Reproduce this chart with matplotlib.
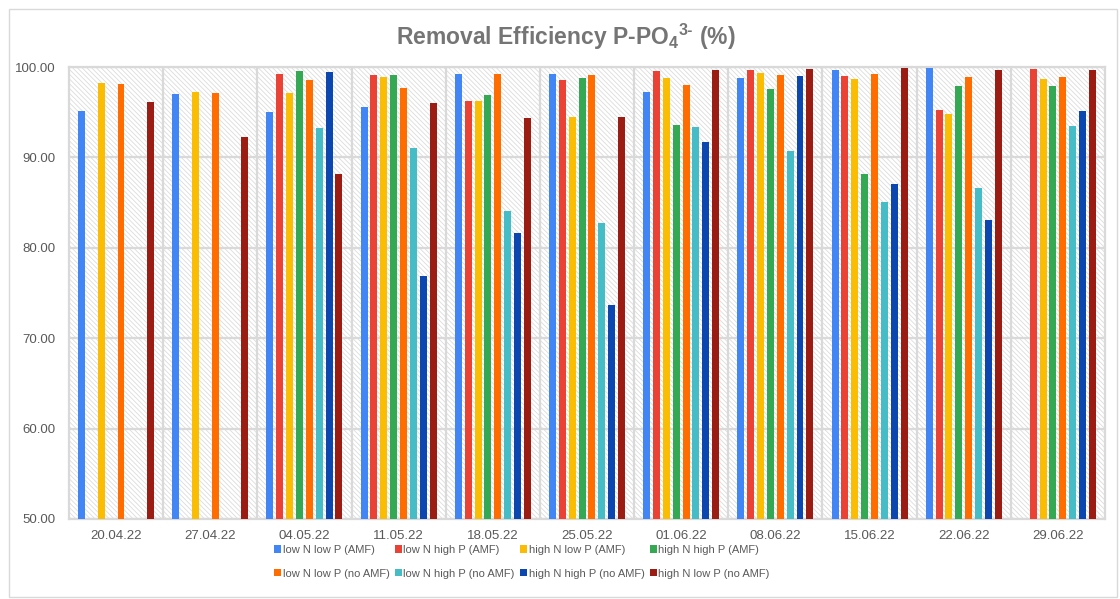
import numpy as np
import matplotlib
matplotlib.use("Agg")
import matplotlib.pyplot as plt
from matplotlib.patches import Patch, Rectangle
from matplotlib.ticker import FixedLocator, FormatStrFormatter

# ---------------------------------------------------------------------------
# Data
# ---------------------------------------------------------------------------
dates = ["20.04.22", "27.04.22", "04.05.22", "11.05.22", "18.05.22", "25.05.22",
         "01.06.22", "08.06.22", "15.06.22", "22.06.22", "29.06.22"]
nan = np.nan

low_n_low_p_amf = [95.1, 97.0, 95.0, 95.6, 99.2, 99.2, 97.2, 98.8, 99.7, 99.9, nan]
low_n_high_p_amf = [nan, nan, 99.2, 99.1, 96.2, 98.6, 99.6, 99.7, 99.0, 95.2, 99.8]
high_n_low_p_amf = [98.2, 97.2, 97.1, 98.9, 96.2, 94.5, 98.8, 99.3, 98.7, 94.8, 98.7]
high_n_high_p_amf = [nan, nan, 99.6, 99.1, 96.9, 98.8, 93.6, 97.6, 88.2, 97.9, 97.9]
low_n_low_p_noamf = [98.1, 97.1, 98.6, 97.7, 99.2, 99.1, 98.0, 99.1, 99.2, 98.9, 98.9]
low_n_high_p_noamf = [nan, nan, 93.3, 91.0, 84.1, 82.7, 93.4, 90.7, 85.1, 86.6, 93.5]
high_n_high_p_noamf = [nan, nan, 99.5, 76.9, 81.6, 73.7, 91.7, 99.0, 87.1, 83.1, 95.1]
high_n_low_p_noamf = [96.1, 92.3, 88.2, 96.0, 94.4, 94.5, 99.7, 99.8, 99.9, 99.7, 99.7]

series_labels = ["low N low P (AMF)", "low N high P (AMF)", "high N low P (AMF)",
                 "high N high P (AMF)", "low N low P (no AMF)", "low N high P (no AMF)",
                 "high N high P (no AMF)", "high N low P (no AMF)"]
series_values = [low_n_low_p_amf, low_n_high_p_amf, high_n_low_p_amf, high_n_high_p_amf,
                 low_n_low_p_noamf, low_n_high_p_noamf, high_n_high_p_noamf,
                 high_n_low_p_noamf]
colors = ["#4285F4", "#EA4335", "#FBBC04", "#34A853",
          "#FF6D01", "#46BDC6", "#0B47AE", "#9B1C12"]

# ---------------------------------------------------------------------------
# Figure
# ---------------------------------------------------------------------------
plt.rcParams.update({
    "font.family": ["Liberation Sans", "DejaVu Sans"],
    "hatch.linewidth": 0.6,
    "mathtext.fontset": "custom",
    "mathtext.rm": "Liberation Sans:bold",
    "mathtext.default": "rm",
})
text_grey = "#595959"
grid_grey = "#d9d9d9"

fig = plt.figure(figsize=(11.2, 5.99), dpi=100)
ax = fig.add_axes([0.0616, 0.1336, 0.925, 0.7545])

# outer chart frame
fig.patches.append(Rectangle((9 / 1120, 2 / 599), 1108 / 1120, 588 / 599,
                             transform=fig.transFigure, fill=False,
                             edgecolor=grid_grey, lw=1.0, zorder=0))

# hatched plot-area background
ax.add_patch(Rectangle((0, 0), 1, 1, transform=ax.transAxes, facecolor="white",
                       edgecolor="#dcdcdc", hatch="\\" * 7, lw=0, zorder=0))

x = np.arange(len(dates))
step = 0.1047
width = 0.074
for i, (vals, col, lab) in enumerate(zip(series_values, colors, series_labels)):
    ax.bar(x + (i - 3.5) * step, vals, width=width, color=col, label=lab, zorder=3)

ax.set_xlim(-0.5, len(dates) - 0.5)
ax.set_ylim(50, 100)
ax.set_yticks(np.arange(50, 101, 10))
ax.yaxis.set_major_formatter(FormatStrFormatter("%.2f"))
ax.set_xticks(x)
ax.set_xticklabels(dates)
ax.xaxis.set_minor_locator(FixedLocator(np.arange(0.5, len(dates) - 0.5, 1)))

ax.grid(True, axis="y", which="major", color=grid_grey, lw=1.6, zorder=1)
ax.grid(True, axis="x", which="minor", color=grid_grey, lw=1.6, zorder=1)
ax.set_axisbelow(True)
ax.tick_params(axis="both", which="both", length=0, labelsize=9.5, colors=text_grey)
ax.tick_params(axis="y", pad=10)
ax.tick_params(axis="x", pad=8)
for sp in ax.spines.values():
    sp.set_color(grid_grey)
    sp.set_linewidth(1.6)

fig.text(0.505, 0.938, r"Removal Efficiency P-PO$_4$$^{3\text{-}}$ (%)", ha="center",
         va="center", fontsize=16.5, fontweight="bold", color="#757575")

# legend, row-major order in 2 rows x 4 columns
handles = [Patch(facecolor=c, edgecolor="none") for c in colors]
order = [0, 4, 1, 5, 2, 6, 3, 7]
fig.legend([handles[k] for k in order], [series_labels[k] for k in order],
           ncol=4, loc="center", bbox_to_anchor=(0.466, 0.062), frameon=False,
           fontsize=8, labelcolor=text_grey, handlelength=0.6, handleheight=0.6,
           handletextpad=0.15, columnspacing=0.5, labelspacing=1.25)

fig.savefig("out.png", dpi=100)
